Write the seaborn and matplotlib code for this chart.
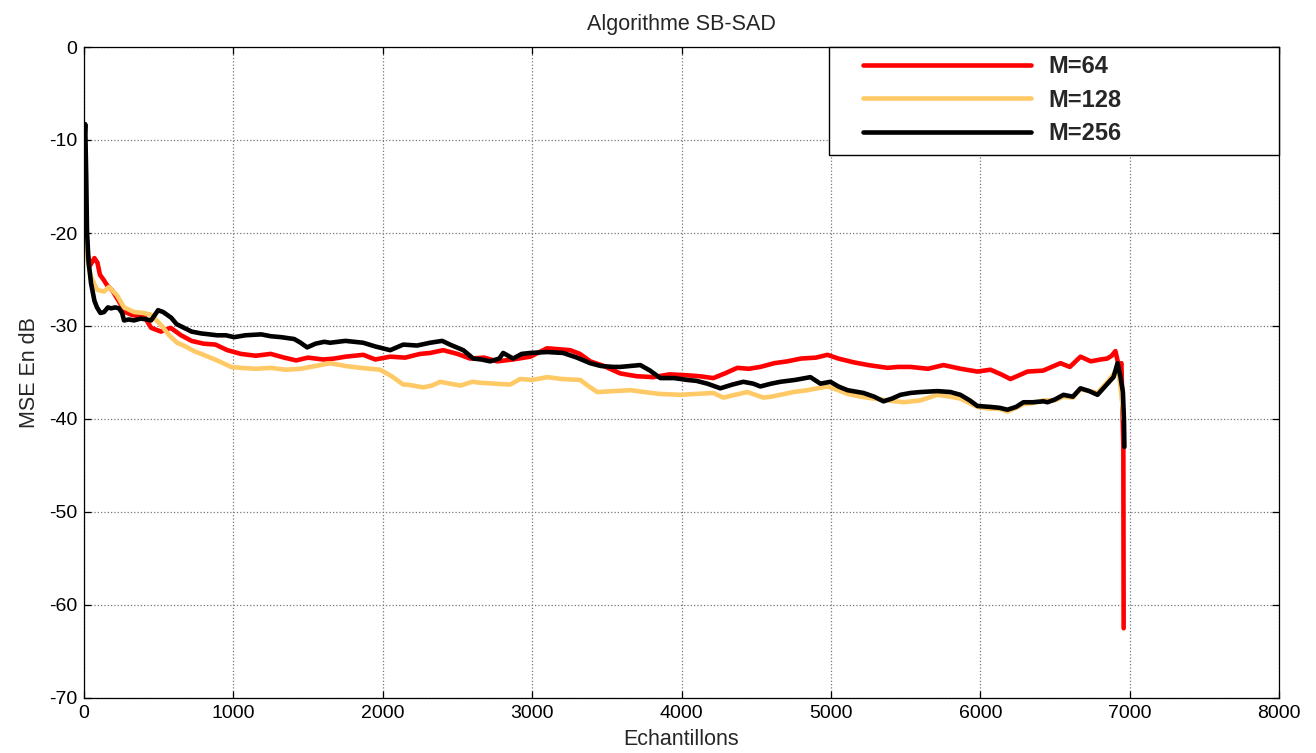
import matplotlib
matplotlib.use("Agg")
import matplotlib.pyplot as plt
from matplotlib.patches import Rectangle
import seaborn as sns
import pandas as pd

# MSE learning curves (dB) of the SB-SAD algorithm for three filter lengths
m64_points = [
    (0, -21.0), (15, -21.5), (40, -23.5), (70, -22.7), (90, -23.2), (107, -24.5),
    (130, -25.0), (154, -25.6), (190, -26.2), (228, -27.2), (275, -28.5), (320, -28.8),
    (380, -29.0), (408, -29.1), (450, -30.2), (515, -30.6), (580, -30.2), (650, -31.0),
    (720, -31.6), (800, -31.9), (880, -32.0), (960, -32.6), (1050, -33.0), (1150, -33.2),
    (1250, -33.0), (1340, -33.4), (1420, -33.7), (1500, -33.4), (1600, -33.6), (1675, -33.5),
    (1750, -33.3), (1870, -33.1), (1950, -33.6), (2050, -33.3), (2150, -33.4), (2250, -33.0),
    (2317, -32.9), (2405, -32.6), (2500, -33.0), (2585, -33.5), (2680, -33.4), (2766, -33.8),
    (2870, -33.6), (2987, -33.3), (3050, -32.8), (3100, -32.4), (3180, -32.5), (3255, -32.6),
    (3320, -33.0), (3389, -33.8), (3480, -34.3), (3590, -35.1), (3700, -35.4), (3811, -35.5),
    (3920, -35.2), (4039, -35.3), (4120, -35.4), (4213, -35.6), (4290, -35.1), (4374, -34.5),
    (4450, -34.6), (4528, -34.4), (4620, -34.0), (4709, -33.8), (4800, -33.5), (4900, -33.4),
    (4977, -33.1), (5050, -33.5), (5151, -33.9), (5250, -34.2), (5379, -34.5), (5450, -34.4),
    (5533, -34.4), (5650, -34.6), (5754, -34.2), (5870, -34.6), (5981, -34.9), (6068, -34.7),
    (6140, -35.2), (6202, -35.7), (6260, -35.3), (6316, -34.9), (6420, -34.8), (6537, -34.0),
    (6600, -34.4), (6671, -33.3), (6740, -33.8), (6805, -33.6), (6850, -33.5), (6880, -33.2),
    (6905, -32.7), (6930, -34.5), (6945, -34.0), (6958, -43.0), (6960, -62.5),
]

m128_points = [
    (0, -19.5), (15, -21.5), (30, -23.5), (47, -24.7), (87, -26.1), (134, -26.3),
    (167, -25.8), (221, -26.7), (268, -28.0), (335, -28.5), (400, -28.6), (449, -28.8),
    (516, -29.9), (570, -31.0), (623, -31.8), (680, -32.2), (737, -32.7), (800, -33.1),
    (891, -33.7), (985, -34.4), (1050, -34.5), (1150, -34.6), (1250, -34.5), (1350, -34.7),
    (1450, -34.6), (1550, -34.3), (1648, -34.0), (1750, -34.3), (1850, -34.5), (1982, -34.7),
    (2060, -35.4), (2137, -36.3), (2163, -36.3), (2271, -36.6), (2330, -36.4), (2384, -36.0),
    (2450, -36.2), (2520, -36.4), (2600, -36.0), (2652, -36.1), (2750, -36.2), (2853, -36.3),
    (2920, -35.7), (3000, -35.8), (3101, -35.5), (3200, -35.7), (3322, -35.8), (3380, -36.5),
    (3436, -37.1), (3550, -37.0), (3657, -36.9), (3750, -37.1), (3850, -37.3), (3992, -37.4),
    (4100, -37.3), (4213, -37.2), (4280, -37.7), (4360, -37.4), (4441, -37.1), (4548, -37.7),
    (4600, -37.6), (4662, -37.4), (4750, -37.1), (4843, -36.9), (4977, -36.5), (5050, -36.9),
    (5111, -37.3), (5200, -37.6), (5285, -37.8), (5380, -38.0), (5486, -38.2), (5600, -38.0),
    (5713, -37.4), (5800, -37.6), (5867, -37.8), (5930, -38.3), (5981, -38.7), (6068, -38.9),
    (6130, -38.9), (6182, -39.2), (6240, -38.8), (6289, -38.4), (6350, -38.3), (6423, -38.0),
    (6500, -38.0), (6557, -37.6), (6620, -37.7), (6671, -36.8), (6730, -37.0), (6785, -37.2),
    (6852, -36.0), (6892, -35.2), (6919, -34.5), (6939, -36.5), (6955, -39.0), (6960, -40.0),
]

m256_points = [
    (0, -11.0), (8, -8.3), (15, -14.0), (20, -19.7), (30, -23.0), (47, -25.4),
    (70, -27.3), (87, -28.0), (110, -28.6), (134, -28.5), (160, -28.0), (181, -28.1),
    (210, -28.0), (234, -28.1), (255, -28.6), (268, -29.4), (300, -29.3), (335, -29.4),
    (380, -29.2), (420, -29.3), (449, -29.4), (475, -28.8), (496, -28.3), (530, -28.5),
    (583, -29.1), (620, -29.8), (670, -30.2), (720, -30.6), (784, -30.8), (840, -30.9),
    (891, -31.0), (950, -31.0), (1005, -31.2), (1080, -31.0), (1186, -30.9), (1250, -31.1),
    (1320, -31.2), (1407, -31.4), (1450, -31.8), (1494, -32.3), (1550, -31.9), (1608, -31.7),
    (1648, -31.8), (1750, -31.6), (1869, -31.8), (1950, -32.2), (2050, -32.6), (2137, -32.0),
    (2230, -32.1), (2317, -31.8), (2398, -31.6), (2450, -32.0), (2539, -32.6), (2606, -33.5),
    (2660, -33.6), (2719, -33.8), (2780, -33.5), (2806, -32.9), (2873, -33.5), (2930, -33.0),
    (2987, -32.9), (3101, -32.8), (3208, -32.9), (3300, -33.4), (3389, -34.0), (3460, -34.3),
    (3543, -34.4), (3590, -34.4), (3657, -34.3), (3724, -34.2), (3790, -34.8), (3858, -35.6),
    (3950, -35.6), (4039, -35.8), (4100, -35.9), (4173, -36.2), (4260, -36.7), (4340, -36.3),
    (4414, -36.0), (4480, -36.2), (4528, -36.5), (4600, -36.2), (4662, -36.0), (4760, -35.8),
    (4863, -35.5), (4930, -36.2), (4997, -36.0), (5050, -36.5), (5111, -36.9), (5218, -37.2),
    (5290, -37.6), (5352, -38.1), (5410, -37.8), (5466, -37.4), (5533, -37.2), (5600, -37.1),
    (5713, -37.0), (5800, -37.1), (5867, -37.4), (5930, -38.0), (5981, -38.6), (6068, -38.7),
    (6130, -38.8), (6182, -39.0), (6240, -38.7), (6289, -38.2), (6350, -38.2), (6423, -38.1),
    (6450, -38.2), (6500, -37.9), (6557, -37.4), (6620, -37.6), (6671, -36.7), (6730, -37.0),
    (6785, -37.4), (6852, -36.2), (6892, -35.5), (6919, -34.0), (6939, -35.5), (6955, -37.1),
    (6962, -40.0), (6965, -43.0),
]

series_labels = ["M=64", "M=128", "M=256"]
series_colors = ["#FF0000", "#FFC966", "#000000"]
x_ticks = list(range(0, 8001, 1000))
y_ticks = list(range(-70, 1, 10))

frames = []
for label, pts in zip(series_labels, [m64_points, m128_points, m256_points]):
    df = pd.DataFrame(pts, columns=["Echantillons", "MSE"])
    df["serie"] = label
    frames.append(df)
data = pd.concat(frames, ignore_index=True)

sns.set_style("ticks")
plt.rcParams["font.family"] = ["Liberation Sans", "DejaVu Sans"]
plt.rcParams["axes.unicode_minus"] = False

fig = plt.figure(figsize=(13.16, 7.53), dpi=100)
ax = fig.add_axes([84 / 1316, 1 - 698 / 753, (1279 - 84) / 1316, (698 - 47) / 753])

sns.lineplot(
    data=data, x="Echantillons", y="MSE", hue="serie",
    palette=dict(zip(series_labels, series_colors)), hue_order=series_labels,
    estimator=None, sort=False, linewidth=3.3, ax=ax, legend=False,
)

ax.set_xlim(0, 8000)
ax.set_ylim(-70, 0)
ax.set_xticks(x_ticks)
ax.set_yticks(y_ticks)
ax.grid(True, linestyle=":", color="#777777", linewidth=0.9)
ax.tick_params(direction="in", length=5, width=0.9, top=True, right=True,
               labelsize=14, pad=5, colors="black")
for sp in ax.spines.values():
    sp.set_visible(True)
    sp.set_color("black")
    sp.set_linewidth(0.9)

ax.set_title("Algorithme SB-SAD", fontsize=15.5, pad=12)
ax.set_xlabel("Echantillons", fontsize=15.5, labelpad=5)
ax.set_ylabel("MSE En dB", fontsize=15.5, labelpad=6)

# Legend box in the upper right corner of the axes
ax.add_patch(Rectangle((745 / 1195, 1 - 108 / 651), 450 / 1195, 108 / 651,
                       transform=ax.transAxes, facecolor="white", edgecolor="black",
                       linewidth=1.0, zorder=4, clip_on=False))
handles = [plt.Line2D([], [], color=c, linewidth=3.3) for c in series_colors]
leg = ax.legend(handles, series_labels, loc="upper left",
                bbox_to_anchor=((863 - 84) / 1195, 1 - 8 / 651),
                frameon=False, borderpad=0, borderaxespad=0,
                handlelength=7.1, handletextpad=0.75, labelspacing=0.45,
                prop={"weight": "bold", "size": 17})
leg.set_zorder(5)

fig.savefig("out.png", dpi=100)
